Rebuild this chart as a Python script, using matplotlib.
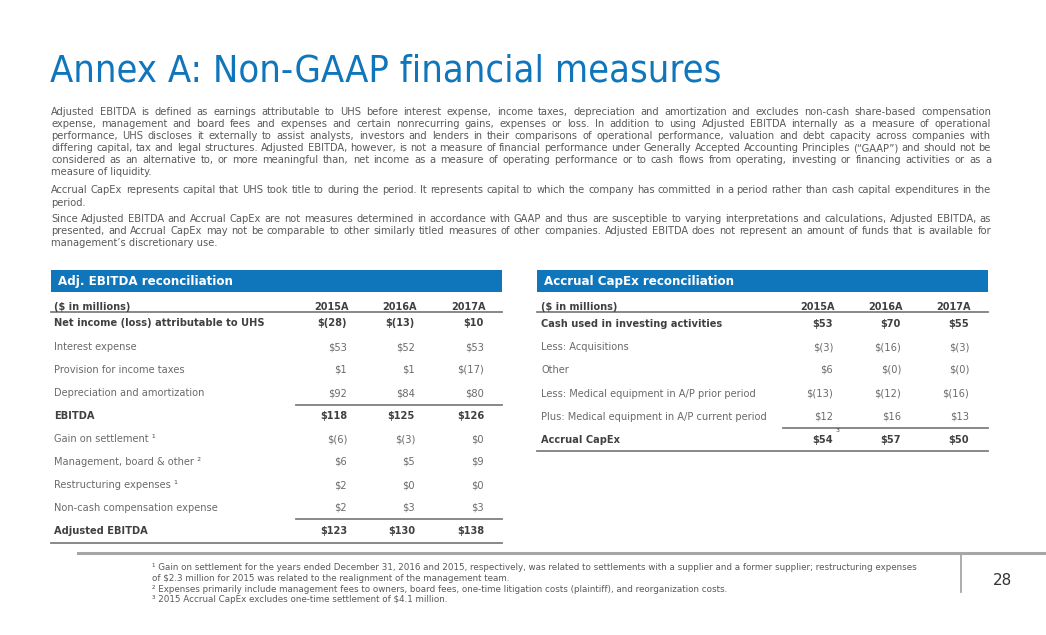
import matplotlib
matplotlib.use("Agg")
import matplotlib.pyplot as plt

# ---- content ----
title = "Annex A: Non-GAAP financial measures"

para1 = [
    "Adjusted EBITDA is defined as earnings attributable to UHS before interest expense, income taxes, depreciation and amortization and excludes non-cash share-based compensation",
    "expense, management and board fees and expenses and certain nonrecurring gains, expenses or loss. In addition to using Adjusted EBITDA internally as a measure of operational",
    "performance, UHS discloses it externally to assist analysts, investors and lenders in their comparisons of operational performance, valuation and debt capacity across companies with",
    "differing capital, tax and legal structures. Adjusted EBITDA, however, is not a measure of financial performance under Generally Accepted Accounting Principles (\u201cGAAP\u201d) and should not be",
    "considered as an alternative to, or more meaningful than, net income as a measure of operating performance or to cash flows from operating, investing or financing activities or as a",
    "measure of liquidity.",
]
para2 = [
    "Accrual CapEx represents capital that UHS took title to during the period. It represents capital to which the company has committed in a period rather than cash capital expenditures in the",
    "period.",
]
para3 = [
    "Since Adjusted EBITDA and Accrual CapEx are not measures determined in accordance with GAAP and thus are susceptible to varying interpretations and calculations, Adjusted EBITDA, as",
    "presented, and Accrual CapEx may not be comparable to other similarly titled measures of other companies. Adjusted EBITDA does not represent an amount of funds that is available for",
    "management\u2019s discretionary use.",
]

years = ["2015A", "2016A", "2017A"]

ebitda_labels = ["Net income (loss) attributable to UHS", "Interest expense", "Provision for income taxes",
                 "Depreciation and amortization", "EBITDA", "Gain on settlement \u00b9",
                 "Management, board & other \u00b2", "Restructuring expenses \u00b9",
                 "Non-cash compensation expense", "Adjusted EBITDA"]
ebitda_2015 = ["$(28)", "$53", "$1", "$92", "$118", "$(6)", "$6", "$2", "$2", "$123"]
ebitda_2016 = ["$(13)", "$52", "$1", "$84", "$125", "$(3)", "$5", "$0", "$3", "$130"]
ebitda_2017 = ["$10", "$53", "$(17)", "$80", "$126", "$0", "$9", "$0", "$3", "$138"]
ebitda_bold = [True, False, False, False, True, False, False, False, False, True]

capex_labels = ["Cash used in investing activities", "Less: Acquisitions", "Other",
                "Less: Medical equipment in A/P prior period",
                "Plus: Medical equipment in A/P current period", "Accrual CapEx"]
capex_2015 = ["$53", "$(3)", "$6", "$(13)", "$12", "$54"]
capex_2016 = ["$70", "$(16)", "$(0)", "$(12)", "$16", "$57"]
capex_2017 = ["$55", "$(3)", "$(0)", "$(16)", "$13", "$50"]
capex_bold = [True, False, False, False, False, True]

footnotes = [
    "\u00b9 Gain on settlement for the years ended December 31, 2016 and 2015, respectively, was related to settlements with a supplier and a former supplier; restructuring expenses",
    "of $2.3 million for 2015 was related to the realignment of the management team.",
    "\u00b2 Expenses primarily include management fees to owners, board fees, one-time litigation costs (plaintiff), and reorganization costs.",
    "\u00b3 2015 Accrual CapEx excludes one-time settlement of $4.1 million.",
]
page = "28"

# ---- style ----
BLUE = "#1076BC"
TXT = "#595959"
LBL = "#6a6a6a"
DARK = "#404040"
RULE = "#7f7f7f"

W, H = 1046, 635
fig = plt.figure(figsize=(W / 100, H / 100), dpi=100)
ax = fig.add_axes([0, 0, 1, 1])
ax.set_xlim(0, W)
ax.set_ylim(H, 0)
ax.axis("off")
renderer = fig.canvas.get_renderer()


def justify(lines, x0, x1, y0, dy, **kw):
    for i, line in enumerate(lines):
        y = y0 + i * dy
        if i == len(lines) - 1:
            ax.text(x0, y, line, va="center", ha="left", **kw)
            continue
        words = line.split(" ")
        ts = [ax.text(0, y, w, va="center", ha="left", **kw) for w in words]
        ws = [t.get_window_extent(renderer).width for t in ts]
        gap = (x1 - x0 - sum(ws)) / (len(words) - 1)
        x = x0
        for t, w in zip(ts, ws):
            t.set_x(x)
            x += w + gap


ax.text(50, 71, title, fontsize=27.3, color=BLUE, va="center", ha="left", fontstretch="condensed")

pkw = dict(fontsize=7.9, color=TXT, fontstretch="condensed")
justify(para1, 51, 991, 112, 12.05, **pkw)
justify(para2, 51, 991, 190, 12.5, **pkw)
justify(para3, 51, 991, 219, 12.2, **pkw)


def table(x0, x1, title_txt, labels, cols, bold, rows_y, col_x, lbl_x, rules):
    ax.add_patch(plt.Rectangle((x0, 270), x1 - x0, 21.5, color=BLUE, lw=0))
    ax.text(x0 + 7, 281, title_txt, color="white", fontsize=8.6, fontweight="bold", va="center")
    ax.text(lbl_x, 306.5, "($ in millions)", color=DARK, fontsize=7, fontweight="bold", va="center")
    for cx, yr in zip(col_x, years):
        ax.text(cx + 2, 306.5, yr, color=DARK, fontsize=7, fontweight="bold", va="center", ha="right")
    ax.plot([x0, x1], [312, 312], color=RULE, lw=1.3)
    for i, lab in enumerate(labels):
        b = bold[i]
        c = DARK if b else LBL
        fw = "bold" if b else "normal"
        ax.text(lbl_x, rows_y[i], lab, color=c, fontsize=7.1, fontweight=fw, va="center")
        for cx, col in zip(col_x, cols):
            ax.text(cx, rows_y[i], col[i], color=c, fontsize=7.1, fontweight=fw, va="center", ha="right")
    for (a, b_, y) in rules:
        ax.plot([a, b_], [y, y], color=RULE, lw=1.3)


ebitda_y = [323.5, 347, 370, 393, 416, 439, 462, 485, 508, 531]
table(51, 502, "Adj. EBITDA reconciliation", ebitda_labels,
      [ebitda_2015, ebitda_2016, ebitda_2017], ebitda_bold, ebitda_y,
      [347, 415, 484], 54, [(296, 502, 404.5), (296, 502, 519), (51, 502, 542.7)])

capex_y = [324.3, 347, 370, 393.7, 416.7, 440]
table(537, 988, "Accrual CapEx reconciliation", capex_labels,
      [capex_2015, capex_2016, capex_2017], capex_bold, capex_y,
      [833, 901, 969], 541, [(783, 988, 427.7), (537, 988, 451)])
ax.text(835.5, 430, "3", color=DARK, fontsize=4.5, va="center", ha="left")

# footer
ax.plot([78, W], [552.5, 552.5], color="#a6a6a6", lw=2.2)
ax.plot([961, 961], [552.5, 592], color="#a6a6a6", lw=1.3)
fy = [567.5, 578.3, 589, 599.5]
for y, line in zip(fy, footnotes):
    ax.text(152, y, line, color=TXT, fontsize=6.35, va="center", ha="left")
ax.text(1003, 580.5, page, color="#333333", fontsize=11, va="center", ha="center")

fig.savefig("out.png", dpi=100)
